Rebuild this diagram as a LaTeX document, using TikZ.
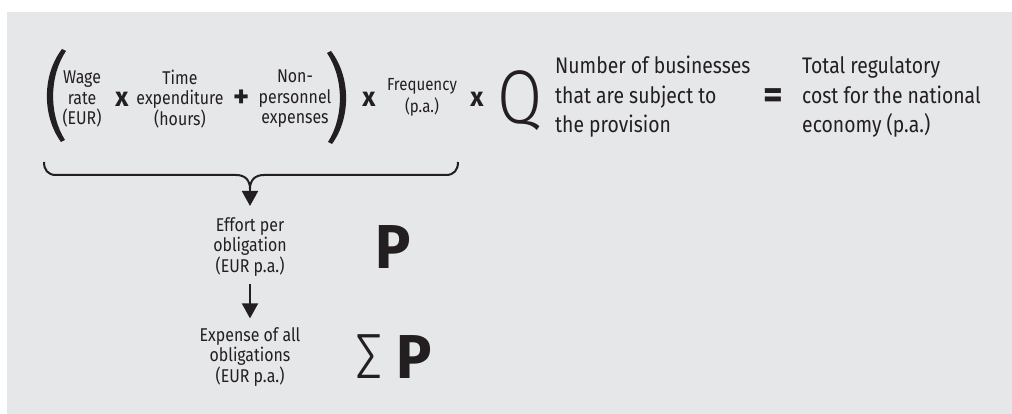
\documentclass[tikz,border=0pt]{standalone}
\usepackage{fontspec}
\setmainfont{Fira Sans}[FakeStretch=0.86]
\newfontfamily\boldsym{Fira Sans}[FakeStretch=0.95,UprightFont=* Bold]
\newfontfamily\lightfont{Fira Sans Light}[FakeStretch=0.86]
\usetikzlibrary{arrows.meta}
\definecolor{bg}{HTML}{E6E7E9}
\definecolor{ink}{HTML}{231F20}
\begin{document}
\begin{tikzpicture}[x=1pt,y=-1pt,
  small/.style={align=center, inner sep=0pt, text=ink, font=\fontsize{18.5}{20.5}\selectfont},
  freqtxt/.style={align=center, inner sep=0pt, text=ink, font=\fontsize{17.5}{22}\selectfont},
  big/.style={align=left, inner sep=0pt, text=ink, font=\fontsize{22.5}{29.5}\selectfont},
  op/.style={inner sep=0pt, text=ink, font=\boldsym\fontsize{27}{27}\selectfont},
  bigletter/.style={inner sep=0pt, text=ink, font=\boldsym\fontsize{62}{62}\selectfont},
  lightletter/.style={inner sep=0pt, text=ink, font=\lightfont\fontsize{76}{76}\selectfont},
  bracepath/.style={draw=ink, line width=2pt},
  arrowline/.style={draw=ink, line width=2pt, -{Triangle[width=16pt,length=15pt]}},
  paren/.style={fill=ink}]
\useasboundingbox (0,0) rectangle (1012,414);
\fill[bg] (7,12) rectangle (1012,414);

% left parenthesis
\fill[paren] (62,49) .. controls (42,75) and (42,116) .. (61,142) -- (65,140) .. controls (49,115) and (49,76) .. (66,51) -- cycle;
% right parenthesis
\fill[paren] (331,51) .. controls (351,77) and (351,118) .. (332,144) -- (328,142) .. controls (344,117) and (344,78) .. (327,53) -- cycle;

\node[small] (wage) at (82,99) {Wage\\rate\\(EUR)};
\node[op] (x1) at (122,99) {x};
\node[small] (time) at (180,99) {Time\\expenditure\\(hours)};
\node[op, font=\boldsym\fontsize{32}{32}\selectfont] (plus) at (242,99) {+};
\node[small] (nonp) at (295,99) {Non-\\personnel\\expenses};
\node[op] (x2) at (369,99) {x};
\node[freqtxt] (freq) at (422,97) {Frequency\\(p.a.)};
\node[op] (x3) at (477,99) {x};
\node[lightletter] (q) at (520,101) {Q};
\node[big, anchor=west] (num) at (555,97) {Number of businesses\\that are subject to\\the provision};
\node[op, font=\boldsym\fontsize{40}{40}\selectfont] (eq) at (773,99) {=};
\node[big, anchor=west] (total) at (802,97) {Total regulatory\\cost for the national\\economy (p.a.)};

% brace
\coordinate (bl) at (44,162);
\coordinate (br) at (458,162);
\coordinate (bm) at (250,189);
\draw[bracepath] (bl) .. controls (44,170) and (48,175) .. (56,175) -- (236,175) .. controls (245,175) and (250,180) .. (bm);
\draw[bracepath] (br) .. controls (458,170) and (454,175) .. (446,175) -- (264,175) .. controls (255,175) and (250,180) .. (bm);

\node[small] (effort) at (250,247) {Effort per\\obligation\\(EUR p.a.)};
\node[bigletter] (p1) at (393,247) {P};
\node[small] (expense) at (250,357) {Expense of all\\obligations\\(EUR p.a.)};
\node[lightletter, font=\lightfont\fontsize{64}{64}\selectfont] (sigma) at (369,357) {Σ};
\node[bigletter] (p2) at (414,357) {P};

\draw[arrowline] (bm) -- (250,206);
\draw[arrowline, shorten <=7pt, shorten >=9pt] (effort.south) -- (expense.north);
\end{tikzpicture}
\end{document}
